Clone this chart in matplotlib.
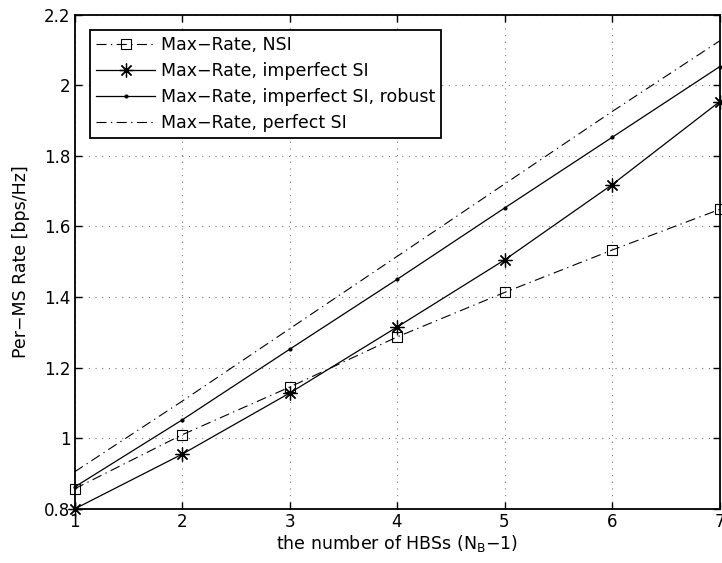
import matplotlib
matplotlib.use("Agg")
import matplotlib.pyplot as plt

plt.rcParams['font.family'] = ['DejaVu Sans']
plt.rcParams['mathtext.fontset'] = 'dejavusans'

x = [1, 2, 3, 4, 5, 6, 7]
nsi = [0.857, 1.010, 1.145, 1.287, 1.413, 1.533, 1.648]
imperfect = [0.800, 0.955, 1.128, 1.315, 1.505, 1.718, 1.953]
robust = [0.862, 1.052, 1.252, 1.450, 1.652, 1.852, 2.052]
perfect = [0.905, 1.105, 1.310, 1.515, 1.720, 1.925, 2.125]

labels = ['Max\u2212Rate, NSI', 'Max\u2212Rate, imperfect SI',
          'Max\u2212Rate, imperfect SI, robust', 'Max\u2212Rate, perfect SI']
xticks = [1, 2, 3, 4, 5, 6, 7]
yticks = [0.8, 1.0, 1.2, 1.4, 1.6, 1.8, 2.0, 2.2]
yticklabels = ['0.8', '1', '1.2', '1.4', '1.6', '1.8', '2', '2.2']

fig = plt.figure(figsize=(7.22, 5.63), dpi=100)
ax = fig.add_axes([74.5/722, 1 - 509/563, 645/722, 494.5/563])

dashdot = (0, (9, 4, 1.2, 4))
ax.plot(x, nsi, color='black', lw=0.8, linestyle=dashdot,
        marker='s', markersize=7.5, markerfacecolor='none', markeredgewidth=0.8,
        label=labels[0], clip_on=False)
ax.plot(x, imperfect, color='black', lw=0.9, marker=(8, 2, 0), markersize=10,
        markerfacecolor='none', markeredgewidth=0.9, label=labels[1], clip_on=False)
ax.plot(x, robust, color='black', lw=0.9, marker='.', markersize=4,
        label=labels[2], clip_on=False)
ax.plot(x, perfect, color='black', lw=0.8, linestyle=dashdot,
        label=labels[3], clip_on=False)

ax.set_xlim(1, 7)
ax.set_ylim(0.8, 2.2)
ax.set_xticks(xticks)
ax.set_yticks(yticks)
ax.set_yticklabels(yticklabels)
ax.tick_params(direction='in', top=True, right=True, labelsize=12, length=5, width=1, pad=3)
for s in ax.spines.values():
    s.set_linewidth(1.3)
ax.grid(True, linestyle=(0, (1, 5)), color='#777777', lw=0.8)

ax.set_xlabel('the number of HBSs (N$_\\mathregular{B}$\u22121)', fontsize=12.5, labelpad=1)
ax.set_ylabel('Per\u2212MS Rate [bps/Hz]', fontsize=12.5, labelpad=10)

leg = ax.legend(loc='upper left', bbox_to_anchor=(0.024, 0.968), fontsize=12.5,
                frameon=True, fancybox=False, edgecolor='black', framealpha=1,
                handlelength=3.4, borderpad=0.35, labelspacing=0.45, handletextpad=0.35,
                borderaxespad=0)
leg.get_frame().set_linewidth(1.3)

fig.savefig('out.png', dpi=100)
